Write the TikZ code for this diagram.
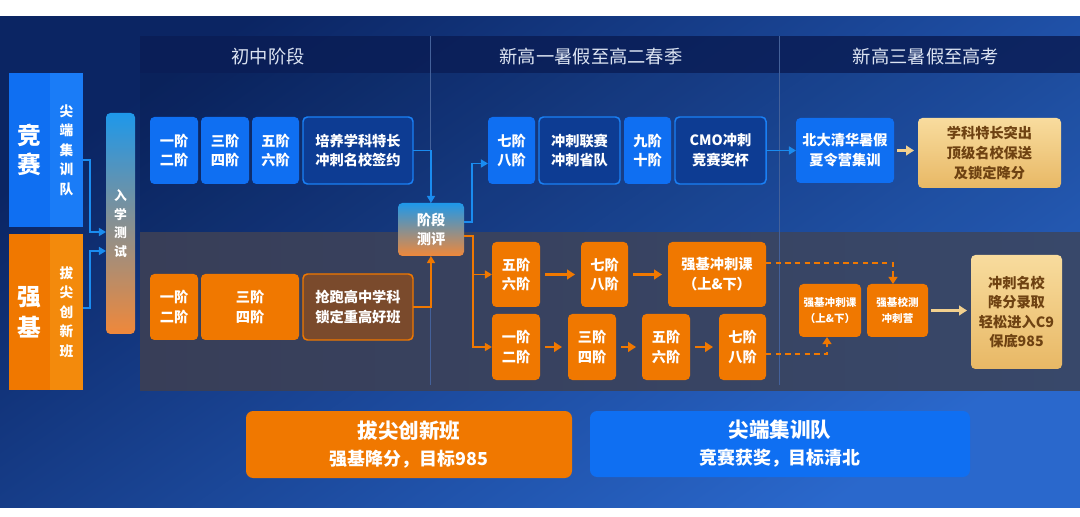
\documentclass[tikz,border=0pt]{standalone}
\usepackage{fontspec}
\setmainfont{Noto Sans CJK SC}
\usetikzlibrary{arrows.meta}
\definecolor{bgA}{HTML}{0B2563}
\definecolor{bgB}{HTML}{2A68CC}
\definecolor{hdr}{HTML}{0A1D55}
\definecolor{grayA}{HTML}{383E58}
\definecolor{grayB}{HTML}{38486A}
\definecolor{blu}{HTML}{0F6FF2}
\definecolor{bluR}{HTML}{1A7CF7}
\definecolor{bluD}{HTML}{0D3C93}
\definecolor{bluL}{HTML}{1A80F5}
\definecolor{conn}{HTML}{1A8CF0}
\definecolor{org}{HTML}{F07800}
\definecolor{orgR}{HTML}{F38A0C}
\definecolor{brn}{HTML}{7A4A2C}
\definecolor{goldA}{HTML}{F8DC9E}
\definecolor{goldB}{HTML}{E8B865}
\definecolor{goldT}{HTML}{6E4212}
\definecolor{goldArr}{HTML}{F2D08E}
\definecolor{divl}{HTML}{44619A}
\definecolor{gtop}{HTML}{1E98EA}
\definecolor{gbot}{HTML}{F0883A}
\definecolor{hdtxt}{HTML}{DCE4F2}
\newcommand\pbox[7]{\node[#2, minimum width={(#5-(#3))*0.02cm}, minimum height={(#6-(#4))*0.02cm}] (#1) at ({((#3)+(#5))/2},{((#4)+(#6))/2}) {#7};}
\begin{document}
\begin{tikzpicture}[x=0.02cm,y=-0.02cm,
  basebox/.style={inner sep=0pt, outer sep=0pt, rounded corners=2.5pt, align=center, text=white, font=\fontsize{8.1}{11.3}\selectfont\bfseries},
  bbox/.style={basebox, fill=blu},
  dbox/.style={basebox, fill=bluD, draw=bluL, line width=0.85pt},
  obox/.style={basebox, fill=org},
  brbox/.style={basebox, fill=brn, draw=org, line width=0.85pt},
  gbox/.style={basebox, top color=goldA, bottom color=goldB, text=goldT},
  tbox/.style={basebox, top color=gtop, bottom color=gbot},
  sbox/.style={obox, font=\fontsize{6}{9}\selectfont\bfseries},
  colbox/.style={inner sep=0pt, outer sep=0pt, align=center, text=white},
  htxt/.style={text=hdtxt, font=\fontsize{10.4}{12}\selectfont},
  bconn/.style={draw=conn, line width=1pt, -{Triangle[length=4pt,width=4.5pt]}},
  oconn/.style={draw=org, line width=1pt, -{Triangle[length=4pt,width=4.5pt]}},
  oarr/.style={draw=org, line width=1.7pt, -{Triangle[length=4.5pt,width=5.5pt]}, shorten <=0.1cm, shorten >=0.12cm},
  dconn/.style={draw=org, line width=1.2pt, dash pattern=on 3pt off 2.5pt, -{Triangle[length=4pt,width=5pt]}},
  garr/.style={draw=goldArr, line width=1.5pt, -{Triangle[length=4.5pt,width=5.5pt]}, shorten <=0.06cm, shorten >=0.08cm}]
\useasboundingbox (0,0) rectangle (1080,517);
\fill[white] (0,0) rectangle (1080,517);
\shade[top color=bgA, bottom color=bgB, shading angle=35] (0,17) rectangle (1080,507);
% panels
\fill[black, opacity=0.08] (140,73) rectangle (1080,233);
\shade[left color=grayA, right color=grayB] (140,233) rectangle (1080,390);
\fill[hdr, opacity=0.85] (140,36) rectangle (1080,73);
\draw[divl, line width=0.4pt] (430,36) -- (430,385);
\draw[divl, line width=0.4pt] (779,36) -- (779,385);
% header
\node[htxt] (h1) at (268,57) {初中阶段};
\node[htxt] (h2) at (591,57) {新高一暑假至高二春季};
\node[htxt] (h3) at (926,57) {新高三暑假至高考};
% left blocks
\pbox{jsL}{colbox, fill=blu, font=\fontsize{13.5}{16.5}\selectfont\bfseries}{9}{73}{50}{227}{竞\\赛}
\pbox{jsR}{colbox, fill=bluR, font=\fontsize{7.8}{11.1}\selectfont\bfseries}{50}{73}{83}{227}{尖\\端\\集\\训\\队}
\pbox{qjL}{colbox, fill=org, font=\fontsize{13.5}{17.5}\selectfont\bfseries}{9}{234}{50}{390}{强\\基}
\pbox{qjR}{colbox, fill=orgR, font=\fontsize{7.8}{11.1}\selectfont\bfseries}{50}{234}{83}{390}{拔\\尖\\创\\新\\班}
\pbox{rx}{tbox, font=\fontsize{7.3}{10.5}\selectfont\bfseries}{106}{113}{135}{334}{入\\学\\测\\试}
% upper row
\pbox{b12}{bbox}{150}{117}{198}{184}{一阶\\二阶}
\pbox{b34}{bbox}{201}{117}{249}{184}{三阶\\四阶}
\pbox{b56}{bbox}{252}{117}{299}{184}{五阶\\六阶}
\pbox{pei}{dbox}{303}{117}{413}{184}{培养学科特长\\冲刺名校签约}
\pbox{q78}{bbox}{488}{117}{535}{184}{七阶\\八阶}
\pbox{lsd}{dbox}{539}{117}{620}{184}{冲刺联赛\\冲刺省队}
\pbox{q910}{bbox}{624}{117}{671}{184}{九阶\\十阶}
\pbox{cmo}{dbox}{675}{117}{766}{184}{CMO冲刺\\竞赛奖杯}
\pbox{bd}{bbox}{796}{118}{894}{183}{北大清华暑假\\夏令营集训}
\pbox{g1}{gbox}{918}{118}{1061}{188}{学科特长突出\\顶级名校保送\\及锁定降分}
% middle
\pbox{pjcp}{tbox}{398}{203}{464}{256}{阶段\\测评}
% lower left
\pbox{o12}{obox}{150}{274}{198}{340}{一阶\\二阶}
\pbox{o34}{obox}{201}{274}{299}{340}{三阶\\四阶}
\pbox{qp}{brbox}{303}{274}{413}{340}{抢跑高中学科\\锁定重高好班}
% lower right
\pbox{u56}{obox}{492}{242}{540}{307}{五阶\\六阶}
\pbox{u78}{obox}{581}{242}{628}{307}{七阶\\八阶}
\pbox{uqj}{obox}{668}{242}{766}{307}{强基冲刺课\\（上\&下）}
\pbox{l12}{obox}{492}{314}{540}{380}{一阶\\二阶}
\pbox{l34}{obox}{568}{314}{616}{380}{三阶\\四阶}
\pbox{l56}{obox}{642}{314}{690}{380}{五阶\\六阶}
\pbox{l78}{obox}{719}{314}{766}{380}{七阶\\八阶}
\pbox{sq}{sbox}{799}{284}{861}{337}{强基冲刺课\\（上\&下）}
\pbox{sx}{sbox}{867}{284}{928}{337}{强基校测\\冲刺营}
\pbox{g2}{gbox, font=\fontsize{8.1}{11}\selectfont\bfseries}{971}{255}{1062}{369}{冲刺名校\\降分录取\\轻松进入C9\\保底985}
% bottom
\pbox{bo}{obox, rounded corners=4pt, font=\fontsize{11.7}{15.4}\selectfont\bfseries}{246}{411}{572}{478}{拔尖创新班\\{\fontsize{10.2}{15.4}\selectfont 强基降分，目标985}}
\pbox{bb}{bbox, rounded corners=4pt, font=\fontsize{11.7}{15.4}\selectfont\bfseries}{590}{411}{970}{477}{尖端集训队\\{\fontsize{10.2}{15.4}\selectfont 竞赛获奖，目标清北}}
% connectors left
\draw[bconn] ([yshift=-0.2cm]jsR.east) -- ++(7,0) |- ([yshift=-0.17cm]rx.west);
\draw[bconn] ([yshift=0.08cm]qjR.east) -- ++(7,0) |- ([yshift=-0.55cm]rx.west);
% upper connectors
\draw[bconn] (pei.east) -| (pjcp.north);
\draw[bconn] ([yshift=0.15cm]pjcp.east) -- ++(8,0) |- ([yshift=-0.26cm]q78.west);
\draw[bconn] (cmo.east) -- (bd.west);
\draw[garr] (bd.east) -- (bd.east -| g1.west);
% lower connectors
\draw[oconn] (qp.east) -| (pjcp.south);
\draw[oconn] ([yshift=-0.13cm]pjcp.east) -- ++(9,0) |- (u56.west);
\draw[oconn] ([yshift=-0.13cm]pjcp.east) -- ++(9,0) |- (l12.west);
\draw[oarr] (u56) -- (u78);
\draw[oarr] (u78) -- (uqj);
\draw[oarr] (l12) -- (l34);
\draw[oarr] (l34) -- (l56);
\draw[oarr] (l56) -- (l78);
\draw[dconn] ([yshift=0.23cm]uqj.east) -| ([xshift=-0.09cm]sx.north);
\draw[dconn] ([yshift=-0.14cm]l78.east) -| ([xshift=-0.06cm]sq.south);
\draw[garr] (sx.east) -- (sx.east -| g2.west);
\end{tikzpicture}
\end{document}
